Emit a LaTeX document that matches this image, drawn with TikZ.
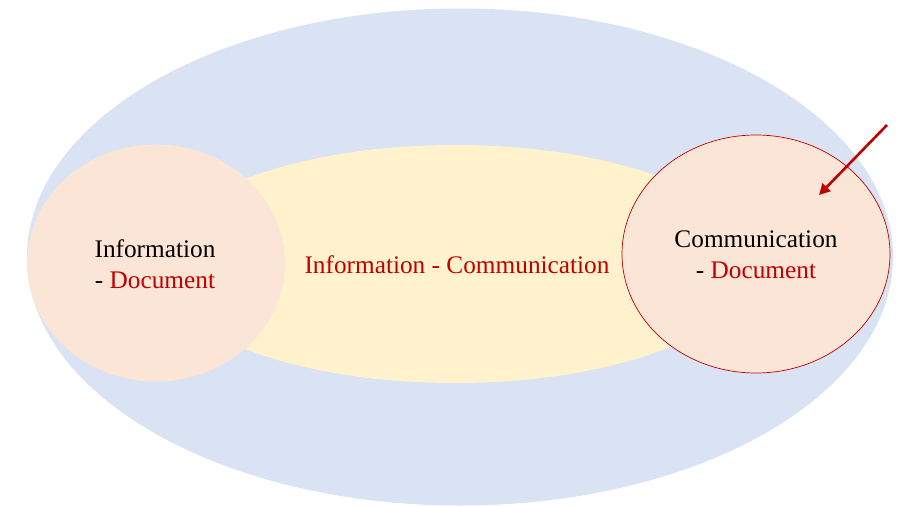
\documentclass[tikz,border=0pt]{standalone}
\usepackage{fontspec}
\setmainfont{Liberation Serif}
\usetikzlibrary{shapes.geometric,arrows.meta}
\definecolor{outerblue}{HTML}{DAE3F3}
\definecolor{inneryellow}{HTML}{FFF2CC}
\definecolor{peach}{HTML}{FBE5D6}
\definecolor{darkred}{HTML}{C00000}
\begin{document}
\begin{tikzpicture}[x=1pt,y=-1pt,
  blob/.style={ellipse,inner sep=0pt,draw=none},
  lbl/.style={font=\fontsize{25.3}{31}\selectfont,align=center}]
\useasboundingbox (0,0) rectangle (902,506);
\fill[white] (0,0) rectangle (902,506);
\node[blob,fill=outerblue,minimum width=866pt,minimum height=497pt] (outer) at (460,257) {};
\node[blob,fill=inneryellow,minimum width=600pt,minimum height=238pt] (inner) at (455,264) {};
\node[blob,fill=peach,minimum width=258pt,minimum height=237pt] (left) at (156,263) {};
\node[blob,fill=peach,draw=darkred,line width=0.7pt,minimum width=268pt,minimum height=238pt] (right) at (756,254) {};
\node[lbl] (ltext) at (155,264) {Information\\- \textcolor{darkred}{Document}};
\node[lbl,text=darkred] (mtext) at (457,265) {Information - Communication};
\node[lbl] (rtext) at (756,255) {Communication\\- \textcolor{darkred}{Document}};
\coordinate (arrstart) at (887,125);
\coordinate (arrend) at (819,195);
\draw[darkred,line width=2.6pt,-{Triangle[length=11pt,width=11pt]}] (arrstart) -- (arrend);
\end{tikzpicture}
\end{document}
